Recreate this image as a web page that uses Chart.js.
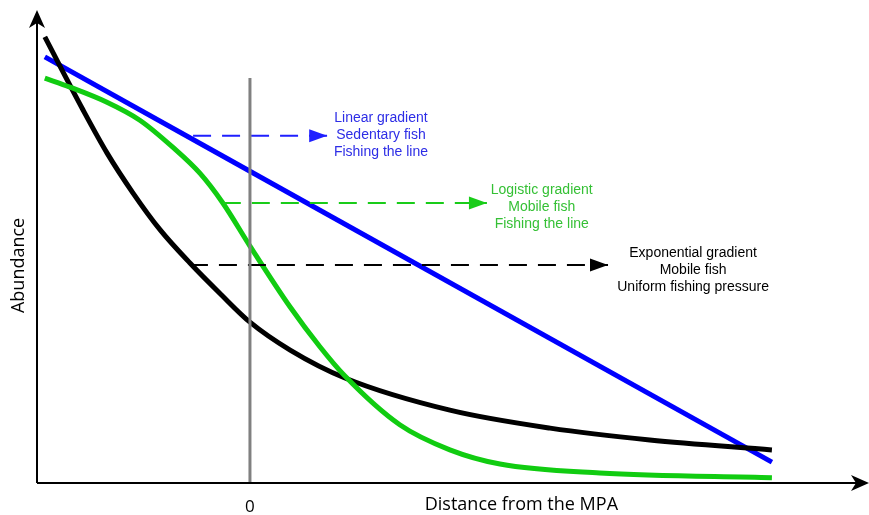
<!DOCTYPE html>
<html lang="en">
<head>
  <meta charset="UTF-8">
  <title>Abundance vs distance from the MPA</title>
  <script src="https://cdn.jsdelivr.net/npm/chart.js"></script>
  <style>
    body { margin: 0; background: #fff; }
    #wrap { width: 869px; height: 515px; position: relative; }
  </style>
</head>
<body>
  <div id="wrap"><canvas id="gradChart"></canvas></div>
  <script>
    // distance units: 0 = MPA border, abundance 0..100
    const linearX = [-3.93, 10];
    const linearY = [90.1, 4.4];

    const logisticX = [-3.93, -3.45, -2.74, -2.11, -1.48, -0.96, -0.52, 0, 0.77, 1.34, 1.82, 2.87, 3.83, 4.79, 6.70, 10];
    const logisticY = [85.6, 83.7, 80.5, 76.7, 71.0, 65.5, 59.2, 50.1, 37.2, 28.8, 22.6, 12.3, 7.0, 4.0, 2.1, 1.1];

    const expX = [-3.93, -3.20, -2.74, -2.24, -1.72, -1.15, -0.55, 0, 0.77, 1.82, 3.83, 5.75, 7.66, 10];
    const expY = [94.3, 78.9, 69.8, 61.3, 53.5, 46.5, 39.8, 34.0, 28.1, 22.2, 15.4, 11.6, 9.1, 7.0];

    const borderX = [0, 0];
    const borderY = [0, 85.6];

    // dashed arrows [start, tip] and their height
    const blueArrowX = [-1.09, 1.48];   const blueArrowY = 73.4;
    const greenArrowX = [-0.52, 4.54];  const greenArrowY = 59.2;
    const blackArrowX = [-1.15, 6.86];  const blackArrowY = 46.1;

    const blueText = ['Linear gradient', 'Sedentary fish', 'Fishing the line'];
    const greenText = ['Logistic gradient', 'Mobile fish', 'Fishing the line'];
    const blackText = ['Exponential gradient', 'Mobile fish', 'Uniform fishing pressure'];
    const textAnchors = [
      { lines: blueText, x: 2.51, y: 77.2, color: '#2d2de6' },
      { lines: greenText, x: 5.59, y: 61.9, color: '#35c035' },
      { lines: blackText, x: 8.49, y: 48.6, color: '#000' }
    ];

    const xTicks = [0];
    const xTitle = 'Distance from the MPA';
    const yTitle = 'Abundance';

    const xMin = -4.08, xMax = 11.86, yMin = 0, yMax = 100;

    function pts(xs, ys) {
      return xs.map((x, i) => ({ x: x, y: Array.isArray(ys) ? ys[i] : ys }));
    }

    function curve(data, color) {
      return {
        data: data, borderColor: color, borderWidth: 5, pointRadius: 0,
        cubicInterpolationMode: 'monotone', borderCapStyle: 'butt', fill: false
      };
    }

    function dashed(data, color) {
      return {
        data: data, borderColor: color, borderWidth: 2, pointRadius: 0,
        borderDash: [18, 11], fill: false, arrow: true
      };
    }

    const decor = {
      id: 'decor',
      afterDatasetsDraw(chart) {
        const ctx = chart.ctx;
        const xs = chart.scales.x, ys = chart.scales.y;
        const x0 = xs.getPixelForValue(xMin), y0 = ys.getPixelForValue(yMin);
        const xEnd = xs.getPixelForValue(xMax), yEnd = ys.getPixelForValue(yMax);
        ctx.save();
        // axes
        ctx.strokeStyle = '#000';
        ctx.fillStyle = '#000';
        ctx.lineWidth = 2;
        ctx.beginPath();
        ctx.moveTo(x0, y0); ctx.lineTo(x0, yEnd + 10);
        ctx.moveTo(x0, y0); ctx.lineTo(xEnd - 10, y0);
        ctx.stroke();
        ctx.beginPath();
        ctx.moveTo(x0, yEnd); ctx.lineTo(x0 - 8, yEnd + 18); ctx.lineTo(x0, yEnd + 13); ctx.lineTo(x0 + 8, yEnd + 18);
        ctx.closePath(); ctx.fill();
        ctx.beginPath();
        ctx.moveTo(xEnd, y0); ctx.lineTo(xEnd - 18, y0 - 8); ctx.lineTo(xEnd - 13, y0); ctx.lineTo(xEnd - 18, y0 + 8);
        ctx.closePath(); ctx.fill();

        // arrow heads on dashed lines
        chart.data.datasets.forEach((ds, i) => {
          if (!ds.arrow) return;
          const el = chart.getDatasetMeta(i).data;
          const tip = el[el.length - 1];
          ctx.fillStyle = ds.borderColor;
          ctx.beginPath();
          ctx.moveTo(tip.x, tip.y);
          ctx.lineTo(tip.x - 18, tip.y - 6.5);
          ctx.lineTo(tip.x - 18, tip.y + 6.5);
          ctx.closePath(); ctx.fill();
        });

        // annotation texts
        ctx.font = '14px "Liberation Sans", Arial, sans-serif';
        ctx.textAlign = 'center';
        ctx.textBaseline = 'middle';
        textAnchors.forEach(a => {
          ctx.fillStyle = a.color;
          const cx = xs.getPixelForValue(a.x);
          const cy = ys.getPixelForValue(a.y);
          a.lines.forEach((t, k) => ctx.fillText(t, cx, cy + k * 17));
        });

        // axis labels
        ctx.fillStyle = '#000';
        ctx.font = '17px "Open Sans", "DejaVu Sans", sans-serif';
        xTicks.forEach(v => ctx.fillText(String(v), xs.getPixelForValue(v), y0 + 24));
        ctx.font = '18px "Open Sans", "DejaVu Sans", sans-serif';
        ctx.fillText(xTitle, xs.getPixelForValue(5.2), y0 + 22);
        ctx.translate(x0 - 18, ys.getPixelForValue(46));
        ctx.rotate(-Math.PI / 2);
        ctx.fillText(yTitle, 0, 0);
        ctx.restore();
      }
    };

    new Chart(document.getElementById('gradChart'), {
      type: 'line',
      data: {
        datasets: [
          { data: pts(borderX, borderY), borderColor: '#808080', borderWidth: 3, pointRadius: 0 },
          dashed(pts(blueArrowX, blueArrowY), '#1f1fff'),
          dashed(pts(greenArrowX, greenArrowY), '#19cc19'),
          dashed(pts(blackArrowX, blackArrowY), '#000'),
          curve(pts(logisticX, logisticY), '#11cc11'),
          curve(pts(expX, expY), '#000'),
          curve(pts(linearX, linearY), '#0000ff')
        ]
      },
      options: {
        responsive: true,
        maintainAspectRatio: false,
        animation: false,
        layout: { padding: { left: 37, right: 0, top: 10, bottom: 32 } },
        plugins: { legend: { display: false }, tooltip: { enabled: false } },
        scales: {
          x: { type: 'linear', min: xMin, max: xMax, display: false },
          y: { type: 'linear', min: yMin, max: yMax, display: false }
        }
      },
      plugins: [decor]
    });
  </script>
</body>
</html>
